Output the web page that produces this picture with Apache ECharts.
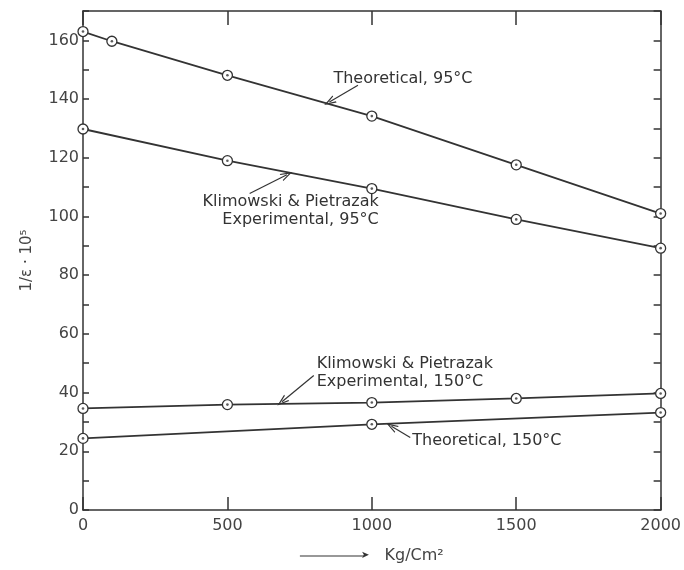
<!DOCTYPE html>
<html><head><meta charset="utf-8">
<script src="https://cdn.jsdelivr.net/npm/echarts@6/dist/echarts.min.js"></script>
<style>html,body{margin:0;padding:0;background:#fff}#c{width:684px;height:570px}</style>
</head><body><div id="c"></div>
<script>
// ---- data ----
const xTickValues = [0, 500, 1000, 1500, 2000];
const yLabelValues = [0, 20, 40, 60, 80, 100, 120, 140, 160];

const theo95X = [0, 100, 500, 1000, 1500, 2000];
const theo95Y = [163.0, 159.7, 148.1, 134.2, 117.6, 101.0];

const exp95X = [0, 500, 1000, 1500, 2000];
const exp95Y = [129.8, 119.0, 109.5, 99.0, 89.2];

const exp150X = [0, 500, 1000, 1500, 2000];
const exp150Y = [34.6, 35.9, 36.6, 38.0, 39.7];

const theo150X = [0, 1000, 2000];
const theo150Y = [24.4, 29.2, 33.2];

const labelTheo95 = 'Theoretical, 95°C';
const labelExp95 = 'Klimowski & Pietrazak\nExperimental, 95°C';
const labelExp150 = 'Klimowski & Pietrazak\nExperimental, 150°C';
const labelTheo150 = 'Theoretical, 150°C';

// annotation arrows (data units): tail [x, y], tip [x, y]
const arrowTheo95Tail = [952, 144.7], arrowTheo95Tip = [853, 139.0];
const arrowExp95Tail = [577, 107.8], arrowExp95Tip = [706, 114.2];
const arrowExp150Tail = [799, 45.8], arrowExp150Tip = [689, 36.9];
const arrowTheo150Tail = [1133, 24.7], arrowTheo150Tip = [1068, 28.5];

// annotation text anchors (data units)
const textTheo95At = [867, 146.8];
const textExp95At = [1024, 101.9];
const textExp150At = [809, 46.6];
const textTheo150At = [1140, 23.7];

const xAxisName = 'Kg/Cm²';
const yAxisName = '1/ε · 10⁵';

// ---- style ----
const INK = '#333';
const FONT = 'DejaVu Sans';
const chevron = 'path://M5,0 L10,11 L8.4,11 L5,3.4 L1.6,11 L0,11 Z';

function pairs(xs, ys) { return xs.map((x, i) => [x, ys[i]]); }

function annotate(tail, tip, at, text, side) {
  return {
    markLine: {
      silent: true,
      animation: false,
      symbol: ['none', chevron],
      symbolSize: [8, 12],
      lineStyle: { color: INK, width: 1.2, type: 'solid' },
      label: { show: false },
      emphasis: { disabled: true },
      data: [[{ coord: tail }, { coord: tip }]]
    },
    markPoint: {
      silent: true,
      animation: false,
      symbol: 'circle',
      symbolSize: 0,
      itemStyle: { color: 'transparent' },
      label: {
        show: true,
        position: side,
        distance: 0,
        formatter: text,
        color: INK,
        fontFamily: FONT,
        fontSize: 16,
        lineHeight: 18,
        align: side === 'left' ? 'right' : 'left'
      },
      data: [{ coord: at }]
    }
  };
}

function lineSeries(xs, ys, ann) {
  return Object.assign({
    type: 'line',
    data: pairs(xs, ys),
    symbol: 'circle',
    symbolSize: 10,
    showAllSymbol: true,
    lineStyle: { color: INK, width: 1.8 },
    itemStyle: { color: '#fff', borderColor: INK, borderWidth: 1.3 },
    emphasis: { disabled: true },
    z: 2
  }, ann);
}

function dotSeries(xs, ys) {
  return {
    type: 'scatter',
    data: pairs(xs, ys),
    symbol: 'circle',
    symbolSize: 2.6,
    itemStyle: { color: INK },
    emphasis: { disabled: true },
    z: 5
  };
}

const axisLineStyle = { color: INK, width: 1.5 };

const option = {
  animation: false,
  backgroundColor: '#fff',
  grid: { left: 83, right: 15, top: 11, bottom: 60 },
  xAxis: [
    {
      type: 'value', position: 'bottom', min: xTickValues[0], max: xTickValues[xTickValues.length - 1], interval: 500,
      axisLine: { show: true, onZero: false, lineStyle: axisLineStyle },
      axisTick: { show: true, inside: true, length: 13, lineStyle: axisLineStyle },
      splitLine: { show: false },
      axisLabel: {
        margin: 8, fontSize: 16, color: '#444', fontFamily: FONT,
        formatter: v => xTickValues.indexOf(v) >= 0 ? String(v) : ''
      },
      name: '{ln| }{ar|➤}   ' + xAxisName,
      nameLocation: 'middle',
      nameGap: 38,
      nameTextStyle: {
        fontSize: 16, color: '#444', fontFamily: FONT,
        rich: {
          ln: { width: 64, height: 1.2, backgroundColor: INK },
          ar: { fontSize: 10, color: INK, padding: [0, 0, 1, -3] }
        }
      }
    },
    {
      type: 'value', position: 'top', min: xTickValues[0], max: xTickValues[xTickValues.length - 1], interval: 500,
      axisLine: { show: true, onZero: false, lineStyle: axisLineStyle },
      axisTick: { show: true, inside: true, length: 14, lineStyle: axisLineStyle },
      splitLine: { show: false },
      axisLabel: { show: false }
    }
  ],
  yAxis: [
    {
      type: 'value', position: 'left', min: 0, max: 170, interval: 10,
      axisLine: { show: true, onZero: false, lineStyle: axisLineStyle },
      axisTick: { show: true, inside: true, length: 6, lineStyle: axisLineStyle },
      splitLine: { show: false },
      axisLabel: {
        margin: 4, fontSize: 16, color: '#444', fontFamily: FONT,
        formatter: v => yLabelValues.indexOf(v) >= 0 ? String(v) : ''
      },
      name: yAxisName,
      nameLocation: 'middle',
      nameRotate: 90,
      nameGap: 48,
      nameTextStyle: { fontSize: 15, color: '#444', fontFamily: FONT }
    },
    {
      type: 'value', position: 'right', min: 0, max: 170, interval: 10,
      axisLine: { show: true, onZero: false, lineStyle: axisLineStyle },
      axisTick: { show: true, inside: true, length: 7, lineStyle: axisLineStyle },
      splitLine: { show: false },
      axisLabel: { show: false }
    }
  ],
  series: [
    lineSeries(theo95X, theo95Y, annotate(arrowTheo95Tail, arrowTheo95Tip, textTheo95At, labelTheo95, 'right')),
    lineSeries(exp95X, exp95Y, annotate(arrowExp95Tail, arrowExp95Tip, textExp95At, labelExp95, 'left')),
    lineSeries(exp150X, exp150Y, annotate(arrowExp150Tail, arrowExp150Tip, textExp150At, labelExp150, 'right')),
    lineSeries(theo150X, theo150Y, annotate(arrowTheo150Tail, arrowTheo150Tip, textTheo150At, labelTheo150, 'right')),
    dotSeries(theo95X, theo95Y),
    dotSeries(exp95X, exp95Y),
    dotSeries(exp150X, exp150Y),
    dotSeries(theo150X, theo150Y)
  ]
};

const chart = echarts.init(document.getElementById('c'), null, { renderer: 'canvas' });
chart.setOption(option);
</script>
</body></html>
